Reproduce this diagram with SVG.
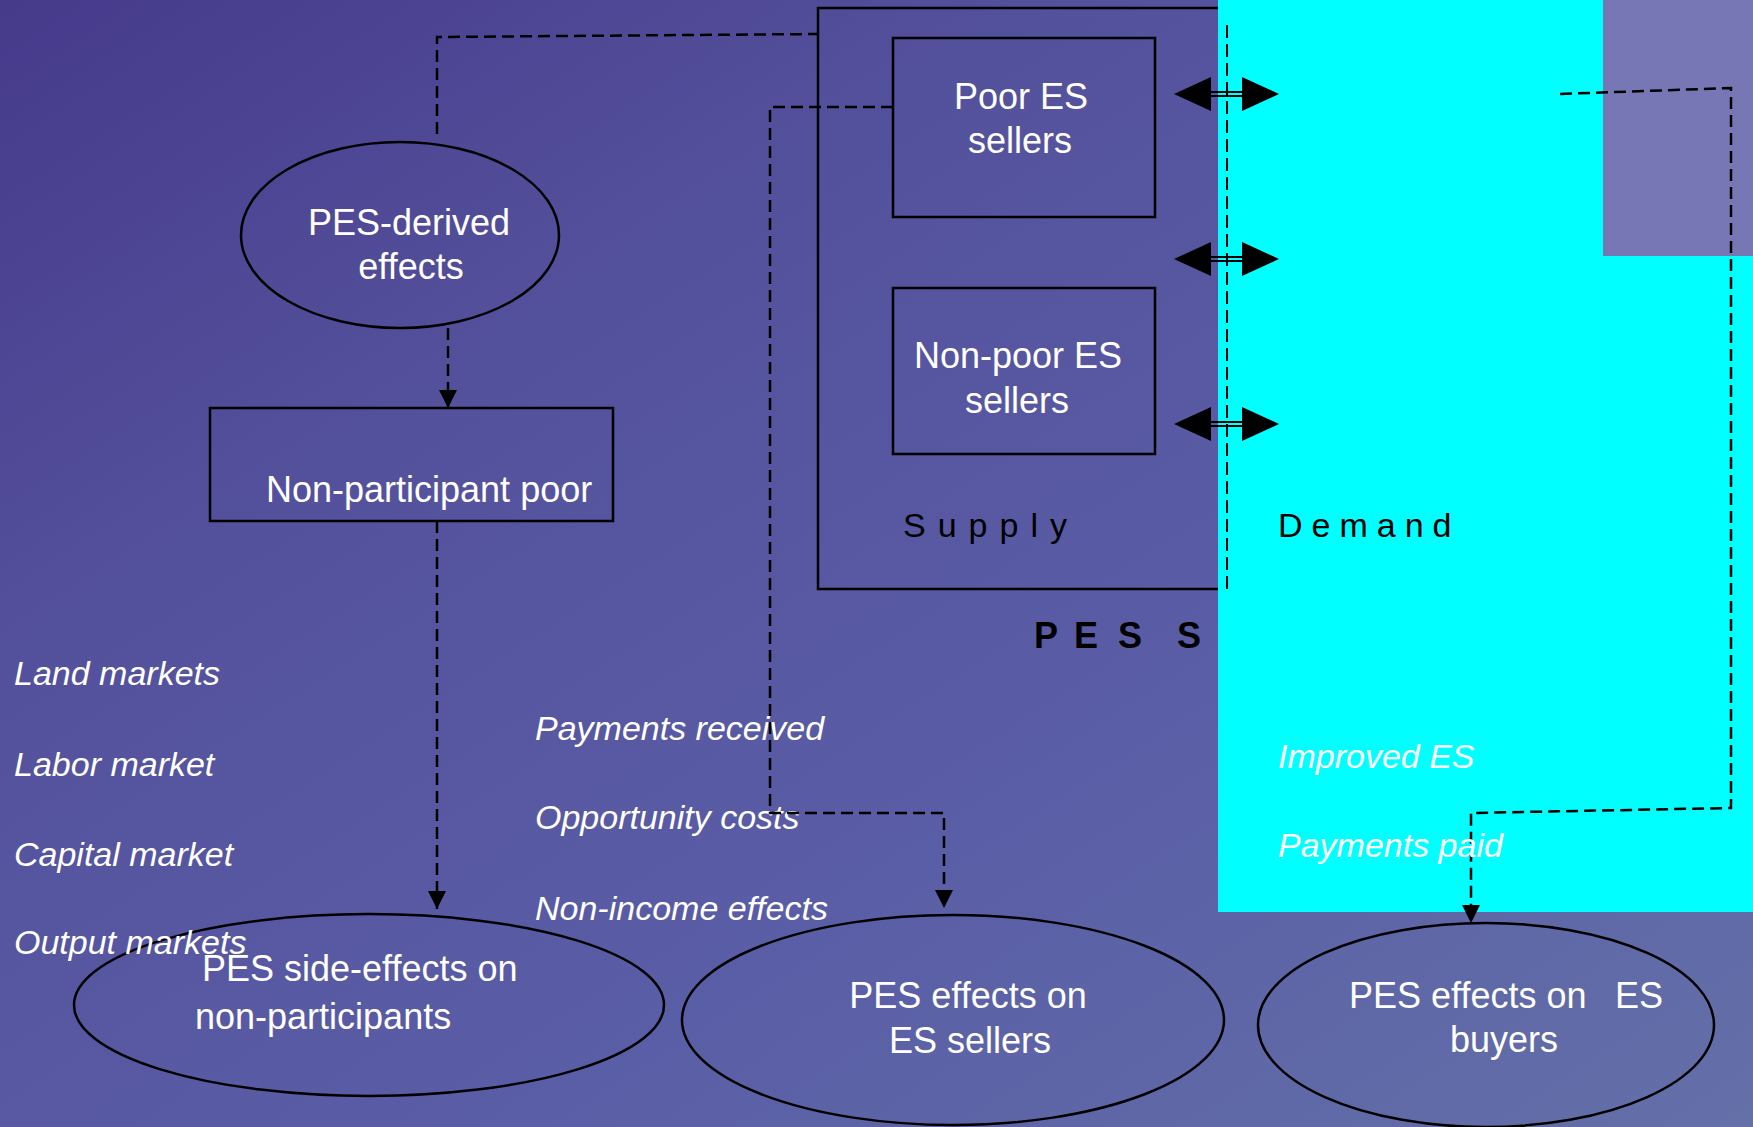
<svg xmlns="http://www.w3.org/2000/svg" width="1753" height="1127" viewBox="0 0 1753 1127">
  <defs>
    <linearGradient id="bg" x1="0" y1="0" x2="1" y2="1">
      <stop offset="0" stop-color="#463a8b"/>
      <stop offset="0.3" stop-color="#54519c"/>
      <stop offset="0.65" stop-color="#5a5ea6"/>
      <stop offset="1" stop-color="#6470a8"/>
    </linearGradient>
    <marker id="arr" markerUnits="userSpaceOnUse" markerWidth="18" markerHeight="18" refX="18" refY="9" orient="auto" viewBox="0 0 18 18">
      <path d="M0,0 L18,9 L0,18 z" fill="#000"/>
    </marker>
  </defs>
  <style>
    .box { fill: none; stroke: #000; stroke-width: 2.5; }
    .lbl { font-family: "Liberation Sans", Arial, sans-serif; font-size: 36px; fill: #fff; }
    .mid { text-anchor: middle; }
    .it { font-family: "Liberation Sans", Arial, sans-serif; font-size: 34px; font-style: italic; fill: #fff; }
    .blk { font-family: "Liberation Sans", Arial, sans-serif; font-size: 34px; fill: #000; }
    .dash { fill: none; stroke: #000; stroke-width: 2.5; stroke-dasharray: 12 6; }
    .thin { fill: none; stroke: #000; stroke-width: 2; stroke-dasharray: 13 6; }
    .dbl { stroke: #000; stroke-width: 2; }
  </style>

  <rect x="0" y="0" width="1753" height="1127" fill="url(#bg)"/>

  <!-- Supply frame -->
  <g id="supply-frame">
    <rect class="box" x="818" y="8" width="440" height="581"/>
    <text class="blk" x="903" y="537" letter-spacing="12">Supply</text>
  </g>

  <g id="pes-derived">
    <ellipse class="box" cx="400" cy="235" rx="159" ry="93"/>
    <text class="lbl mid" x="409" y="235">PES-derived</text>
    <text class="lbl mid" x="411" y="279">effects</text>
  </g>

  <g id="non-participant-poor">
    <rect class="box" x="210" y="408" width="403" height="113"/>
    <text class="lbl" x="266" y="502">Non-participant poor</text>
  </g>

  <g id="poor-sellers">
    <rect class="box" x="893" y="38" width="262" height="179"/>
    <text class="lbl mid" x="1021" y="109">Poor ES</text>
    <text class="lbl mid" x="1020" y="153">sellers</text>
  </g>

  <g id="nonpoor-sellers">
    <rect class="box" x="893" y="288" width="262" height="166"/>
    <text class="lbl mid" x="1018" y="368">Non-poor ES</text>
    <text class="lbl mid" x="1017" y="413">sellers</text>
  </g>

  <g id="side-effects">
    <ellipse class="box" cx="369" cy="1005" rx="295" ry="91"/>
  </g>

  <g id="effects-sellers">
    <ellipse class="box" cx="953" cy="1020" rx="271" ry="105"/>
    <text class="lbl mid" x="968" y="1008">PES effects on</text>
    <text class="lbl mid" x="970" y="1053">ES sellers</text>
  </g>

  <g id="effects-buyers">
    <ellipse class="box" cx="1486" cy="1025" rx="228" ry="102"/>
    <text class="lbl" x="1349" y="1008">PES effects on<tspan x="1615">ES</tspan></text>
    <text class="lbl mid" x="1504" y="1052">buyers</text>
  </g>

  <g id="market-labels">
    <text class="it" x="14" y="685">Land markets</text>
    <text class="it" x="14" y="776">Labor market</text>
    <text class="it" x="14" y="866">Capital market</text>
    <text class="it" x="14" y="954">Output markets</text>
  </g>

  <g id="side-effects-text">
    <text class="lbl" x="202" y="981">PES side-effects on</text>
    <text class="lbl" x="195" y="1029">non-participants</text>
  </g>

  <g id="seller-labels">
    <text class="it" x="535" y="740">Payments received</text>
    <text class="it" x="535" y="829">Opportunity costs</text>
    <text class="it" x="535" y="920">Non-income effects</text>
  </g>

  <text id="pes-scheme" font-family="Liberation Sans, Arial, sans-serif" font-size="36" font-weight="bold" fill="#000" x="1034 1074 1118 1150 1177" y="648">PES S</text>

  <!-- Demand side panel -->
  <g id="demand-panel">
    <rect x="1218" y="0" width="535" height="912" fill="#00ffff"/>
    <rect x="1603" y="0" width="150" height="256" fill="#7877b6"/>
  </g>

  <g id="connectors">
    <path class="dash" d="M437,134 V37 L818,34"/>
    <path class="dash" d="M448,328 V408" marker-end="url(#arr)"/>
    <path class="dash" d="M437,521 V909" marker-end="url(#arr)"/>
    <path class="dash" d="M893,107 H770 V813 H944 V908" marker-end="url(#arr)"/>
    <path class="dash" d="M1560,94 L1731,88 V808 L1471,813 V923" marker-end="url(#arr)"/>
    <path class="thin" d="M1227,25 V593"/>
    <g id="dbl1">
      <polygon points="1174,94 1211,77 1211,111"/>
      <polygon points="1279,94 1242,77 1242,111"/>
      <line class="dbl" x1="1210" y1="92" x2="1243" y2="92"/>
      <line class="dbl" x1="1210" y1="96" x2="1243" y2="96"/>
    </g>
    <g id="dbl2">
      <polygon points="1174,259 1211,242 1211,276"/>
      <polygon points="1279,259 1242,242 1242,276"/>
      <line class="dbl" x1="1210" y1="257" x2="1243" y2="257"/>
      <line class="dbl" x1="1210" y1="261" x2="1243" y2="261"/>
    </g>
    <g id="dbl3">
      <polygon points="1174,424 1211,407 1211,441"/>
      <polygon points="1279,424 1242,407 1242,441"/>
      <line class="dbl" x1="1210" y1="422" x2="1243" y2="422"/>
      <line class="dbl" x1="1210" y1="426" x2="1243" y2="426"/>
    </g>
  </g>

  <g id="demand-labels">
    <text class="blk" x="1278" y="537" letter-spacing="9">Demand</text>
    <text class="it" x="1278" y="768">Improved ES</text>
    <text class="it" x="1278" y="857">Payments paid</text>
  </g>
</svg>
